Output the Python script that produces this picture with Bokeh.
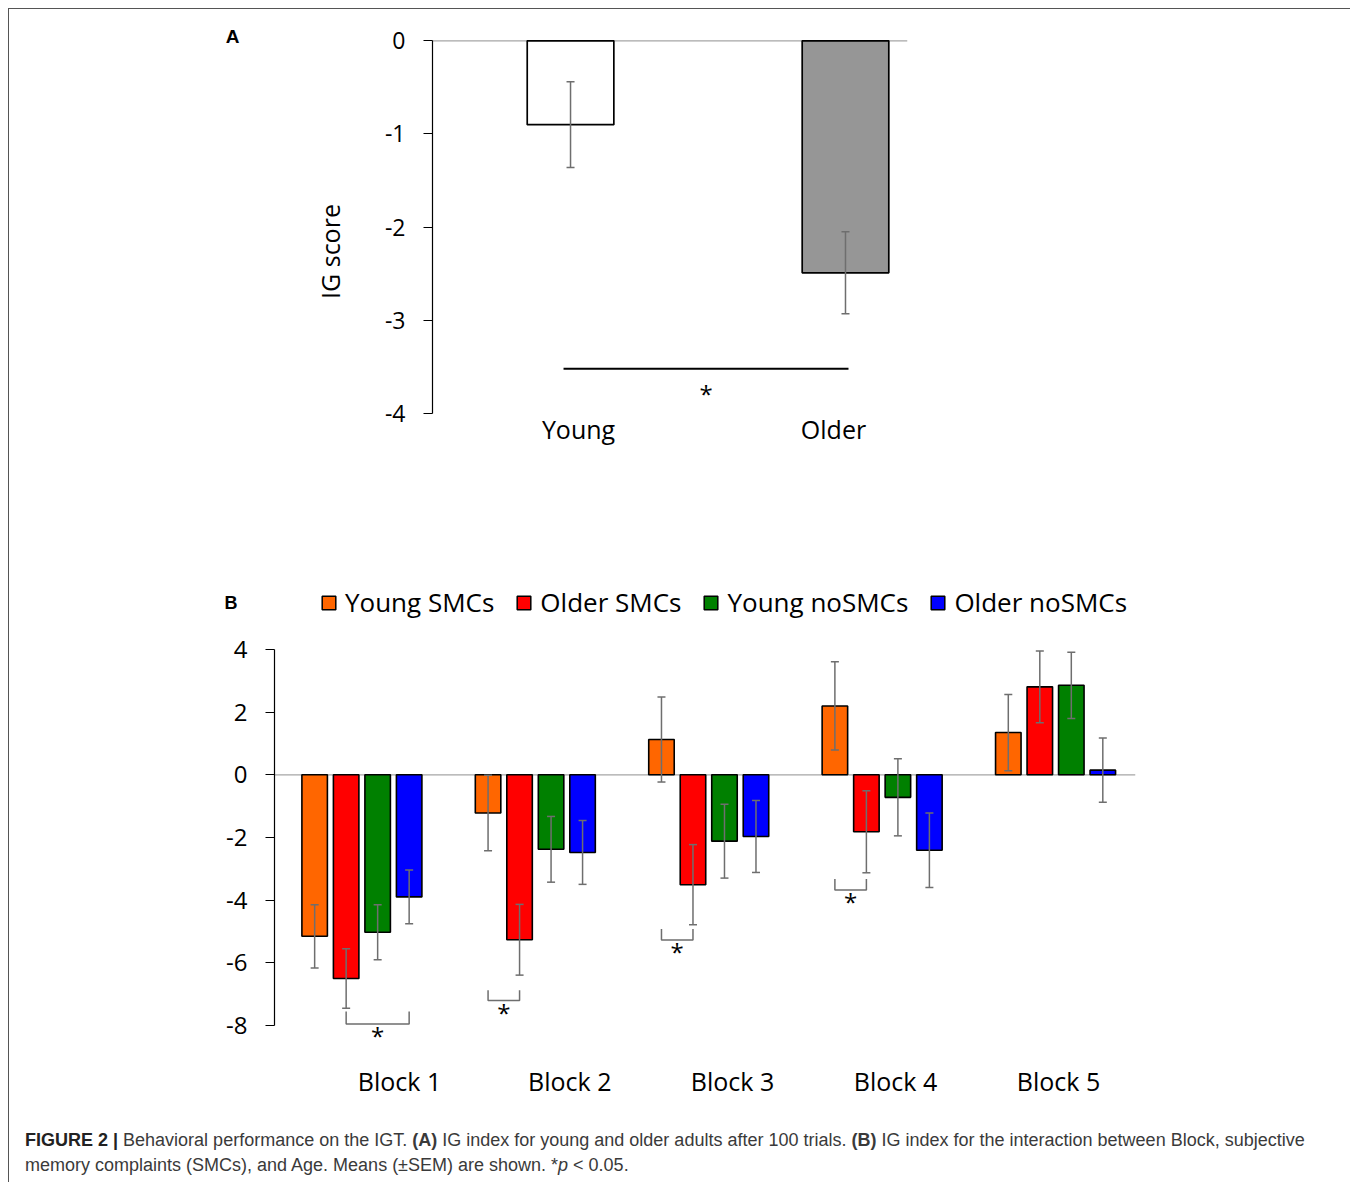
import math
from jinja2 import Template
from bokeh.plotting import figure
from bokeh.models import (ColumnDataSource, Whisker, TeeHead, Span, FixedTicker,
                          Legend, LegendItem, Div, Range1d, CustomJSTickFormatter)
from bokeh.embed import file_html
from bokeh.resources import INLINE
from bokeh.core.properties import value

# ---------------- data ----------------
# Panel A
groups_a = ["Young", "Older"]
ig_a = [-0.90, -2.49]
sem_a = [0.46, 0.44]
fills_a = ["#FFFFFF", "#969696"]
yticks_a = [0, -1, -2, -3, -4]
sig_line_a = -3.52

# Panel B
blocks = ["Block 1", "Block 2", "Block 3", "Block 4", "Block 5"]
series_names = ["Young SMCs", "Older SMCs", "Young noSMCs", "Older noSMCs"]
series_colors = ["#FF6600", "#FF0000", "#008000", "#0000FF"]
young_smc = [-5.16, -1.22, 1.13, 2.20, 1.35]
young_smc_sem = [1.01, 1.21, 1.36, 1.41, 1.22]
older_smc = [-6.51, -5.27, -3.51, -1.82, 2.81]
older_smc_sem = [0.95, 1.13, 1.28, 1.31, 1.15]
young_nosmc = [-5.03, -2.38, -2.12, -0.72, 2.86]
young_nosmc_sem = [0.88, 1.05, 1.18, 1.23, 1.06]
older_nosmc = [-3.90, -2.48, -1.97, -2.41, 0.15]
older_nosmc_sem = [0.86, 1.02, 1.15, 1.19, 1.03]
yticks_b = [4, 2, 0, -2, -4, -6, -8]
# significance brackets: (block index, series a, series b, top of legs, bracket level)
sig_b = [(0, 1, 3, -7.56, -7.96), (1, 0, 1, -6.88, -7.21),
         (2, 0, 1, -4.93, -5.28), (3, 0, 1, -3.33, -3.68)]

series_vals = [young_smc, older_smc, young_nosmc, older_nosmc]
series_sems = [young_smc_sem, older_smc_sem, young_nosmc_sem, older_nosmc_sem]

# ---------------- style ----------------
FONT = "Open Sans"
ERR = "#6e6e6e"
ZERO = "#a6a6a6"
W = 1340


def clean(p):
    p.grid.visible = False
    p.outline_line_color = None
    p.background_fill_color = "white"
    p.border_fill_color = "white"


def blank_fig(name, w, h):
    f = figure(name=name, width=w, height=h, x_range=Range1d(0, w), y_range=Range1d(0, h),
               x_axis_location=None, y_axis_location=None, min_border=0,
               output_backend="svg", toolbar_location=None)
    clean(f)
    return f


def style_yaxis(ax, ticks, bounds, size):
    ax.ticker = FixedTicker(ticks=ticks)
    ax.bounds = bounds
    ax.formatter = CustomJSTickFormatter(code="return tick.toFixed(0)")
    ax.axis_line_color = "black"
    ax.axis_line_width = 1.2
    ax.major_tick_line_color = "black"
    ax.major_tick_line_width = 1.2
    ax.major_tick_out = 9
    ax.major_tick_in = 0
    ax.minor_tick_line_color = None
    ax.major_label_text_font = FONT
    ax.major_label_text_font_size = size
    ax.major_label_text_color = "black"
    ax.major_label_standoff = 18


def style_xaxis(ax, ticks, labels, standoff):
    ax.ticker = FixedTicker(ticks=ticks)
    ax.formatter = CustomJSTickFormatter(args=dict(labels=labels), code="return labels[index]")
    ax.axis_line_color = None
    ax.major_tick_line_color = None
    ax.minor_tick_line_color = None
    ax.major_tick_out = 0
    ax.major_tick_in = 0
    ax.major_label_text_font = FONT
    ax.major_label_text_font_size = "25px"
    ax.major_label_text_color = "black"
    ax.major_label_standoff = standoff


def whisker(src):
    return Whisker(base="x", upper="upper", lower="lower", source=src, dimension="height",
                   line_color=ERR, line_width=1.5, level="annotation",
                   upper_head=TeeHead(size=8, line_color=ERR, line_width=1.5),
                   lower_head=TeeHead(size=8, line_color=ERR, line_width=1.5))


# ---------------- Panel A: side strip with letter and y title ----------------
LA_W, A_H = 341, 464
la = blank_fig("letter_a", LA_W, A_H)
la.text(x=[223], y=[A_H - 27], text=["A"], text_font=value("Liberation Sans"),
        text_font_size=value("19px"), text_font_style="bold", text_align="center",
        text_baseline="alphabetic", text_color="black")
la.text(x=[320], y=[A_H - 242], text=["IG score"], angle=math.pi / 2, text_font=value(FONT),
        text_font_size=value("25px"), text_align="center", text_baseline="alphabetic",
        text_color="black")

# ---------------- Panel A ----------------
pa = figure(name="panel_a", width=W - LA_W, height=A_H, x_range=Range1d(0.498, 2.2255),
            y_range=Range1d(-4.0, 0.1), output_backend="svg", toolbar_location=None,
            min_border_left=82, min_border_right=442, min_border_top=22, min_border_bottom=60)
clean(pa)
PXA = 275.0  # px per x unit in panel A
xa = [i + 1 for i in range(len(groups_a))]

pa.add_layout(Span(location=0, dimension="width", line_color=ZERO, line_width=1.2, level="underlay"))
src_a = ColumnDataSource(dict(x=xa, top=ig_a, fill=fills_a,
                              upper=[v + s for v, s in zip(ig_a, sem_a)],
                              lower=[v - s for v, s in zip(ig_a, sem_a)]))
pa.vbar(x="x", top="top", bottom=0, width=0.315, source=src_a, fill_color="fill",
        line_color="black", line_width=1.7)
pa.add_layout(whisker(src_a))
pa.line(x=[xa[0] - 7 / PXA, xa[1] + 3 / PXA], y=[sig_line_a, sig_line_a], line_color="black", line_width=2)
pa.text(x=[(xa[0] + xa[1]) / 2 - 2 / PXA], y=[sig_line_a - 0.26], text=["*"], text_font=value(FONT),
        text_font_size=value("24px"), text_align="center", text_baseline="middle", text_color="black")

style_yaxis(pa.yaxis[0], yticks_a, (-4, 0), "23px")
label_shift_a = [8, -12]
style_xaxis(pa.xaxis[0], [x + d / PXA for x, d in zip(xa, label_shift_a)], groups_a, -2)

# ---------------- Panel B header: letter and legend ----------------
HB_H = 157
hb = blank_fig("header_b", W, HB_H)
hb.text(x=[221.5], y=[28], text=["B"], text_font=value("Liberation Sans"),
        text_font_size=value("18px"), text_font_style="bold", text_align="center",
        text_baseline="alphabetic", text_color="black")
legend_items = []
for name, col in zip(series_names, series_colors):
    # legend key only: one undefined (NaN) bar, so nothing is drawn in the header itself
    r = hb.vbar(x=[float("nan")], top=[float("nan")], width=1, fill_color=col,
                line_color="black", line_width=1.5)
    legend_items.append(LegendItem(label=name, renderers=[r]))
legend = Legend(items=legend_items, orientation="horizontal", location=(311, 10), margin=0, padding=0,
                spacing=21, label_standoff=8, glyph_width=17, glyph_height=17,
                border_line_color=None, background_fill_alpha=0,
                label_text_font=FONT, label_text_font_size="26px", label_text_color="black")
hb.add_layout(legend)

# ---------------- Panel B ----------------
pb = figure(name="panel_b", width=W, height=490, x_range=Range1d(0.496, 5.461),
            y_range=Range1d(-9.0, 4.1), output_backend="svg", toolbar_location=None,
            min_border_left=265, min_border_right=214, min_border_top=16, min_border_bottom=64)
clean(pb)
PXB = 173.4
STEP = 31.5 / PXB
BW = 25.5 / PXB

pb.add_layout(Span(location=0, dimension="width", line_color=ZERO, line_width=1.2, level="underlay"))

srcs = []
for k, (vals, sems, col) in enumerate(zip(series_vals, series_sems, series_colors)):
    xs = [i + 1 + (k - 1.5) * STEP for i in range(len(blocks))]
    src = ColumnDataSource(dict(x=xs, top=vals,
                                upper=[v + s for v, s in zip(vals, sems)],
                                lower=[v - s for v, s in zip(vals, sems)]))
    pb.vbar(x="x", top="top", bottom=0, width=BW, source=src, fill_color=col,
            line_color="black", line_width=1.6)
    srcs.append(src)
for src in srcs:
    pb.add_layout(whisker(src))

bx, by, ax_, ay_ = [], [], [], []
for b, sa, sb, ytop, ybot in sig_b:
    x0 = b + 1 + (sa - 1.5) * STEP
    x1 = b + 1 + (sb - 1.5) * STEP
    bx.append([x0, x0, x1, x1])
    by.append([ytop, ybot, ybot, ytop])
    ax_.append((x0 + x1) / 2)
    ay_.append(ybot - 0.37)
pb.multi_line(xs=bx, ys=by, line_color=ERR, line_width=1.5)
pb.text(x=ax_, y=ay_, text=["*"] * len(ax_), text_font=value(FONT), text_font_size=value("24px"),
        text_align="center", text_baseline="middle", text_color="black")

style_yaxis(pb.yaxis[0], yticks_b, (-8, 4), "24px")
label_shift_b = [37.6, 34.5, 23.8, 13.4, 3.0]
style_xaxis(pb.xaxis[0], [i + 1 + d / PXB for i, d in enumerate(label_shift_b)], blocks, 7)

# ---------------- caption ----------------
caption_html = (
    "<div style=\"font-family:'Liberation Sans',Arial,sans-serif;font-size:18px;line-height:25px;"
    "color:#3a3a3a;padding-left:11px;padding-top:3px;white-space:nowrap;\">"
    "<b style='color:#222'>FIGURE 2 |</b> Behavioral performance on the IGT. <b>(A)</b> IG index for young "
    "and older adults after 100 trials. <b>(B)</b> IG index for the interaction between Block, subjective<br>"
    "memory complaints (SMCs), and Age. Means (&plusmn;SEM) are shown. *<i>p</i> &lt; 0.05.</div>"
)
cap = Div(name="caption", text=caption_html, width=W, height=60)

TEMPLATE = Template("""<!DOCTYPE html>
<html lang="en">
<head>
<meta charset="utf-8">
<title>{{ title }}</title>
<style>
html { margin: 0; padding: 0; }
body { margin: 8px; padding: 0; overflow: hidden; background: white; }
.frame { box-sizing: content-box; width: 1344px; min-width: 1344px; border-top: 1px solid #555;
         border-left: 1px solid #555; border-right: 2px solid #555; border-bottom: none;
         display: flex; flex-direction: column; align-items: flex-start; }
.frow { display: flex; flex-direction: row; align-items: flex-start; }
</style>
{{ bokeh_css }}
{{ bokeh_js }}
</head>
<body>
{% from macros import embed %}
<div class="frame">
<div class="frow">{{ embed(roots.letter_a) }}{{ embed(roots.panel_a) }}</div>
{{ embed(roots.header_b) }}
{{ embed(roots.panel_b) }}
{{ embed(roots.caption) }}
</div>
{{ plot_script }}
</body>
</html>
""")

p = [la, pa, hb, pb, cap]
open("out.html", "w").write(file_html(p, INLINE, title="Figure 2", template=TEMPLATE))
